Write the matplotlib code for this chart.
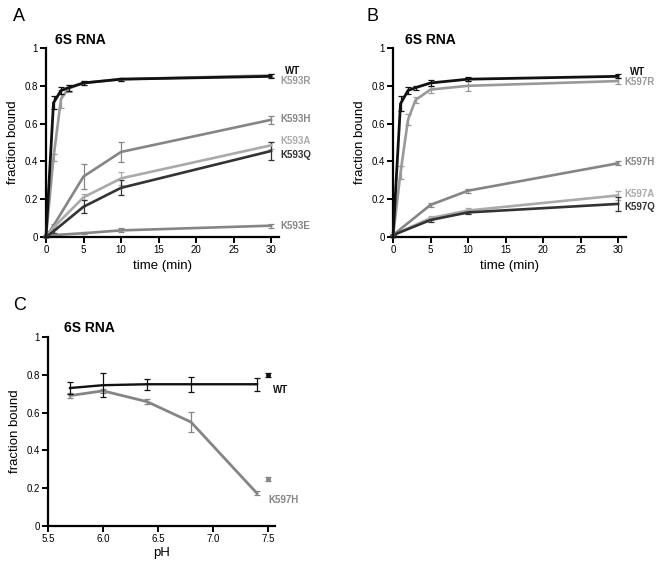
import matplotlib
matplotlib.use("Agg")
import matplotlib.pyplot as plt

plt.rcParams['font.family'] = ['Liberation Sans', 'DejaVu Sans']

# ---------------- Panel A data ----------------
tA_fast = [0, 1, 2, 3, 5, 10, 30]
tA_slow = [0, 1, 5, 10, 30]
A_WT = [0.0, 0.71, 0.775, 0.79, 0.815, 0.835, 0.85]
A_WT_err = [0, 0.035, 0.02, 0.015, 0.012, 0.008, 0.01]
A_R = [0.0, 0.42, 0.73, 0.785, 0.815, 0.835, 0.855]
A_R_err = [0, 0.02, 0.05, 0.02, 0.01, 0.008, 0.008]
A_H = [0.0, 0.06, 0.32, 0.45, 0.62]
A_H_err = [0, 0.01, 0.065, 0.055, 0.02]
A_A = [0.0, 0.05, 0.21, 0.31, 0.485]
A_A_err = [0, 0.01, 0.015, 0.035, 0.02]
A_Q = [0.0, 0.03, 0.16, 0.26, 0.455]
A_Q_err = [0, 0.01, 0.035, 0.04, 0.05]
A_E = [0.01, 0.01, 0.02, 0.035, 0.06]
A_E_err = [0, 0.003, 0.005, 0.01, 0.01]

# ---------------- Panel B data ----------------
tB_fast = [0, 1, 2, 3, 5, 10, 30]
tB_slow = [0, 5, 10, 30]
B_WT = [0.0, 0.705, 0.775, 0.79, 0.815, 0.835, 0.85]
B_WT_err = [0, 0.04, 0.02, 0.01, 0.015, 0.01, 0.01]
B_R = [0.0, 0.34, 0.62, 0.725, 0.78, 0.80, 0.825]
B_R_err = [0, 0.035, 0.03, 0.015, 0.02, 0.025, 0.015]
B_H = [0.01, 0.17, 0.245, 0.39]
B_H_err = [0, 0.01, 0.01, 0.01]
B_A = [0.01, 0.10, 0.14, 0.22]
B_A_err = [0, 0.01, 0.015, 0.025]
B_Q = [0.01, 0.09, 0.13, 0.175]
B_Q_err = [0, 0.01, 0.01, 0.035]

# ---------------- Panel C data ----------------
pH = [5.7, 6.0, 6.4, 6.8, 7.4]
C_WT = [0.73, 0.745, 0.75, 0.75, 0.75]
C_WT_err = [0.03, 0.065, 0.03, 0.04, 0.035]
C_H = [0.69, 0.715, 0.658, 0.55, 0.173]
C_H_err = [0.015, 0.01, 0.015, 0.055, 0.01]
pH_single = [7.5]
C_WT_single = [0.797]
C_WT_single_err = [0.01]
C_H_single = [0.249]
C_H_single_err = [0.01]

BLACK = '#111111'
DARK = '#333333'
MID = '#858585'
RGREY = '#999999'
LIGHT = '#aaaaaa'

fig = plt.figure(figsize=(6.65, 5.65), dpi=100)
W, H = 665.0, 565.0

def make_ax(left, top, right, bottom):
    return fig.add_axes([left / W, (H - bottom) / H, (right - left) / W, (bottom - top) / H])

def style(ax):
    for s in ['top', 'right']:
        ax.spines[s].set_visible(False)
    for s in ['left', 'bottom']:
        ax.spines[s].set_linewidth(1.6)
    ax.tick_params(direction='out', length=4, width=1.4, labelsize=7, pad=2)
    ax.set_ylim(0, 1)
    ax.set_yticks([0, 0.2, 0.4, 0.6, 0.8, 1.0])
    ax.set_yticklabels(['0', '0.2', '0.4', '0.6', '0.8', '1'])
    ax.set_ylabel('fraction bound', fontsize=9.5, labelpad=4)

def series(ax, x, y, e, color, lw=1.9, z=2):
    ax.errorbar(x, y, yerr=e, color=color, lw=lw, elinewidth=0.9,
                capsize=2.5, capthick=0.9, zorder=z, clip_on=False)

# ---------------- Panel A ----------------
axA = make_ax(46, 48, 278.5, 237)
style(axA)
axA.set_xlim(0, 31)
axA.set_xticks([0, 5, 10, 15, 20, 25, 30])
axA.set_xlabel('time (min)', fontsize=9.5, labelpad=3)
series(axA, tA_slow, A_E, A_E_err, MID)
series(axA, tA_slow, A_H, A_H_err, MID)
series(axA, tA_slow, A_A, A_A_err, LIGHT)
series(axA, tA_slow, A_Q, A_Q_err, DARK)
series(axA, tA_fast, A_R, A_R_err, RGREY, z=3)
series(axA, tA_fast, A_WT, A_WT_err, BLACK, lw=2.0, z=4)
lab_kw = dict(fontsize=7, fontweight='bold', va='center', ha='left')
axA.text(31.9, 0.878, 'WT', color=BLACK, **lab_kw)
axA.text(31.3, 0.825, 'K593R', color=RGREY, **lab_kw)
axA.text(31.3, 0.624, 'K593H', color=MID, **lab_kw)
axA.text(31.3, 0.508, 'K593A', color=LIGHT, **lab_kw)
axA.text(31.3, 0.434, 'K593Q', color=DARK, **lab_kw)
axA.text(31.3, 0.058, 'K593E', color=MID, **lab_kw)
axA.text(1.2, 1.005, '6S RNA', fontsize=10, fontweight='bold', va='bottom', ha='left')
fig.text(13 / W, 1 - 21 / H, 'A', fontsize=13, va='baseline', ha='left')

# ---------------- Panel B ----------------
axB = make_ax(393, 48, 625.5, 237)
style(axB)
axB.set_xlim(0, 31)
axB.set_xticks([0, 5, 10, 15, 20, 25, 30])
axB.set_xlabel('time (min)', fontsize=9.5, labelpad=3)
series(axB, tB_slow, B_H, B_H_err, MID)
series(axB, tB_slow, B_A, B_A_err, LIGHT)
series(axB, tB_slow, B_Q, B_Q_err, DARK)
series(axB, tB_fast, B_R, B_R_err, RGREY, z=3)
series(axB, tB_fast, B_WT, B_WT_err, BLACK, lw=2.0, z=4)
axB.text(31.6, 0.873, 'WT', color=BLACK, **lab_kw)
axB.text(30.9, 0.82, 'K597R', color=RGREY, **lab_kw)
axB.text(30.9, 0.397, 'K597H', color=MID, **lab_kw)
axB.text(30.9, 0.227, 'K597A', color=LIGHT, **lab_kw)
axB.text(30.9, 0.16, 'K597Q', color=DARK, **lab_kw)
axB.text(1.6, 1.005, '6S RNA', fontsize=10, fontweight='bold', va='bottom', ha='left')
fig.text(367 / W, 1 - 21 / H, 'B', fontsize=13, va='baseline', ha='left')

# ---------------- Panel C ----------------
axC = make_ax(48, 337, 275, 526)
style(axC)
axC.set_xlim(5.5, 7.564)
axC.set_xticks([5.5, 6.0, 6.5, 7.0, 7.5])
axC.set_xticklabels(['5.5', '6.0', '6.5', '7.0', '7.5'])
axC.set_xlabel('pH', fontsize=9.5, labelpad=2)
series(axC, pH, C_H, C_H_err, MID, lw=2.0)
series(axC, pH, C_WT, C_WT_err, BLACK, lw=1.7, z=4)
axC.errorbar(pH_single, C_WT_single, yerr=C_WT_single_err, color=BLACK, fmt='o',
             ms=2.5, elinewidth=0.9, capsize=2, capthick=0.9, clip_on=False)
axC.errorbar(pH_single, C_H_single, yerr=C_H_single_err, color=MID, fmt='o',
             ms=2.5, elinewidth=0.9, capsize=2, capthick=0.9, clip_on=False)
axC.text(7.545, 0.72, 'WT', color=BLACK, **lab_kw)
axC.text(7.5, 0.138, 'K597H', color=MID, **lab_kw)
axC.text(5.65, 1.01, '6S RNA', fontsize=10, fontweight='bold', va='bottom', ha='left')
fig.text(13 / W, 1 - 310 / H, 'C', fontsize=13, va='baseline', ha='left')

fig.savefig('out.png', dpi=100, facecolor='white')
